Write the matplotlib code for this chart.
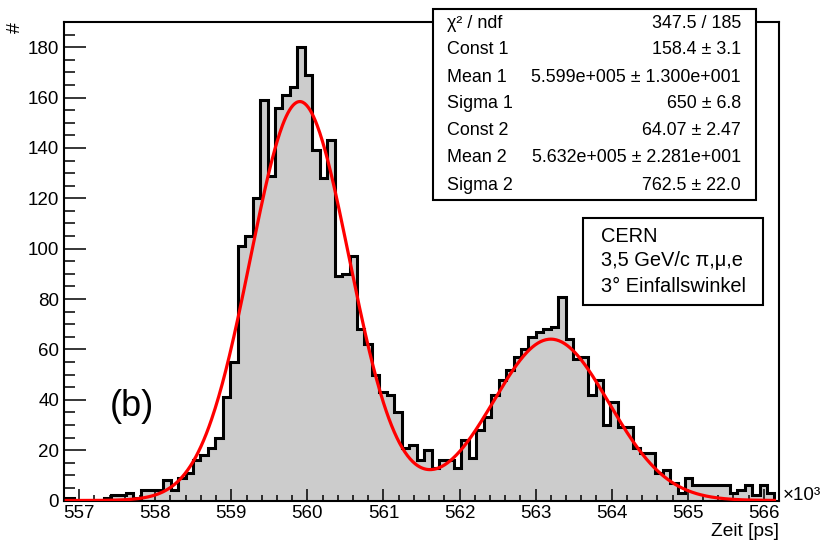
import numpy as np
import matplotlib
matplotlib.use('Agg')
import matplotlib.pyplot as plt
from matplotlib.patches import Rectangle

plt.rcParams['font.family'] = ['Liberation Sans', 'DejaVu Sans']

# histogram (x in 10^3 ps), 95 bins between the two limits
bin_lo = 556.83
bin_hi = 566.14
counts = [1, 0, 0, 0, 0, 1, 2, 2, 3, 1,
          4, 4, 4, 8, 4, 9, 11, 16, 18, 21,
          25, 41, 55, 101, 105, 120, 159, 129, 156, 161,
          164, 180, 169, 139, 128, 143, 89, 90, 97, 68,
          62, 50, 43, 42, 35, 21, 22, 16, 20, 13,
          16, 16, 13, 24, 17, 28, 33, 42, 48, 52,
          57, 60, 65, 67, 68, 69, 81, 64, 56, 57,
          42, 48, 30, 39, 29, 29, 21, 19, 19, 11,
          12, 7, 3, 9, 6, 6, 6, 6, 6, 3,
          4, 6, 2, 6, 3]

# double gaussian fit, parameters from the stats box
fit_const = [158.4, 64.07]
fit_mean = [559.9, 563.2]
fit_sigma = [0.650, 0.7625]

stat_labels = ['χ² / ndf', 'Const 1', 'Mean 1', 'Sigma 1', 'Const 2', 'Mean 2', 'Sigma 2']
stat_values = ['347.5 / 185', '158.4 ± 3.1', '5.599e+005 ± 1.300e+001', '650 ± 6.8',
               '64.07 ± 2.47', '5.632e+005 ± 2.281e+001', '762.5 ± 22.0']
info_lines = ['CERN', '3,5 GeV/c π,μ,e', '3° Einfallswinkel']

W, H = 821, 543


def fx(px):
    return px / W


def fy(py):
    return 1 - py / H


fig = plt.figure(figsize=(W / 100, H / 100), dpi=100)
ax = fig.add_axes([fx(64), fy(500.5), fx(779) - fx(64), fy(22) - fy(500.5)])

edges = np.linspace(bin_lo, bin_hi, len(counts) + 1)
ax.stairs(counts, edges, fill=True, color='#cccccc', zorder=1)
ax.stairs(counts, edges, baseline=0, color='black', linewidth=2.2, zorder=2)

xs = np.linspace(bin_lo, bin_hi, 800)
ys = np.zeros_like(xs)
for c, m, s in zip(fit_const, fit_mean, fit_sigma):
    ys += c * np.exp(-0.5 * ((xs - m) / s) ** 2)
ax.plot(xs, ys, color='red', linewidth=2.3, zorder=3)

ax.set_xlim(556.825, 566.15)
ax.set_ylim(0, 190)
ax.set_xticks(np.arange(557, 567, 1))
ax.set_xticks(np.arange(556.8, 566.2, 0.2), minor=True)
ax.set_yticks(np.arange(0, 181, 20))
ax.set_yticks(np.arange(0, 191, 5), minor=True)
ax.tick_params(axis='both', which='both', direction='in', top=False, right=False,
               width=1.1, labelsize=13.5)
ax.tick_params(axis='x', which='major', length=9, pad=3)
ax.tick_params(axis='x', which='minor', length=4.5)
ax.tick_params(axis='y', which='major', length=16, pad=3.5)
ax.tick_params(axis='y', which='minor', length=8)
for sp in ax.spines.values():
    sp.set_linewidth(1.5)

fig.text(fx(15), fy(28), '#', rotation=90, ha='center', va='center', fontsize=14)
fig.text(fx(779), fy(532), 'Zeit [ps]', ha='right', va='center', fontsize=13.8)
fig.text(fx(783), fy(495), '×10³', ha='left', va='center', fontsize=13.5)
fig.text(fx(132), fy(407), '(b)', ha='center', va='center', fontsize=26)

# stats box
fig.add_artist(Rectangle((fx(433), fy(200)), fx(756) - fx(433), fy(8.5) - fy(200),
                         transform=fig.transFigure, facecolor='white', edgecolor='black',
                         linewidth=1.5, zorder=5))
rows = np.linspace(23, 185, len(stat_labels))
for lab, val, r in zip(stat_labels, stat_values, rows):
    fig.text(fx(447), fy(r), lab, ha='left', va='center', fontsize=12.9, zorder=6)
    fig.text(fx(741), fy(r), val, ha='right', va='center', fontsize=12.9, zorder=6)

# info box
fig.add_artist(Rectangle((fx(583), fy(305)), fx(763) - fx(583), fy(218) - fy(305),
                         transform=fig.transFigure, facecolor='white', edgecolor='black',
                         linewidth=1.5, zorder=5))
for line, r in zip(info_lines, [237, 261, 287]):
    fig.text(fx(601), fy(r), line, ha='left', va='center', fontsize=14.4, zorder=6)

fig.savefig('out.png', dpi=100)
